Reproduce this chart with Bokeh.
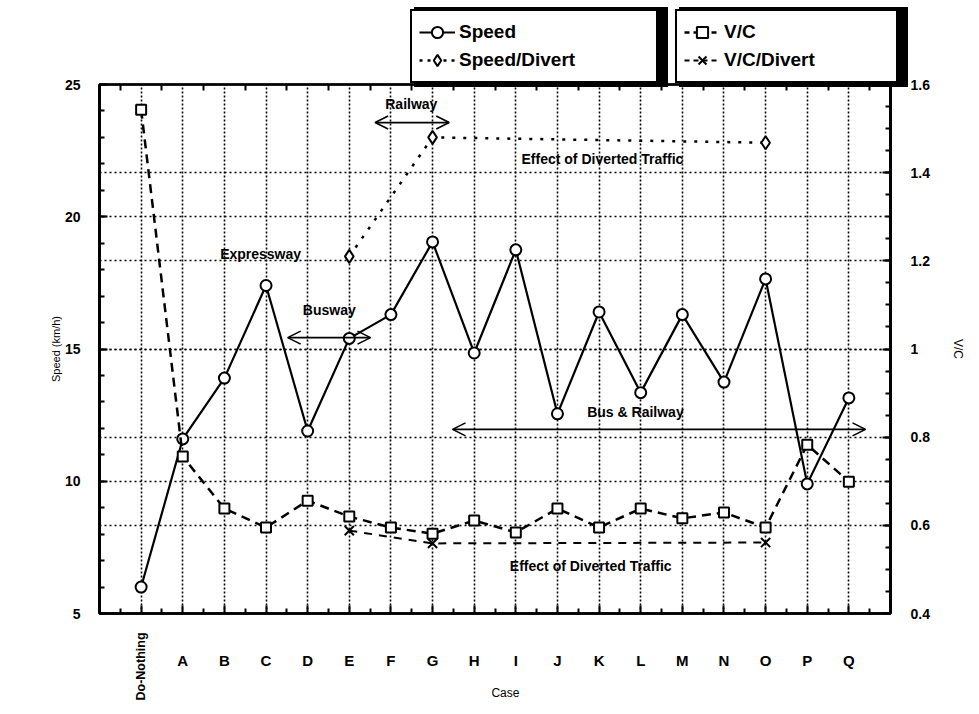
import math
from bokeh.plotting import figure
from bokeh.layouts import column
from bokeh.models import (Range1d, LinearAxis, FixedTicker, Grid, Legend, LegendItem,
                          Label, Arrow, OpenHead, CustomJSTickFormatter)
from bokeh.core.properties import value
from bokeh.embed import file_html
from bokeh.resources import INLINE

# ---------------- data ----------------
categories = ["Do-Nothing", "A", "B", "C", "D", "E", "F", "G", "H", "I",
              "J", "K", "L", "M", "N", "O", "P", "Q"]
speed = [6.0, 11.6, 13.9, 17.4, 11.9, 15.4, 16.3, 19.05, 14.85, 18.75,
         12.55, 16.4, 13.35, 16.3, 13.75, 17.65, 9.9, 13.15]
vc = [1.543, 0.756, 0.638, 0.595, 0.656, 0.620, 0.595, 0.581, 0.611, 0.584,
      0.638, 0.595, 0.638, 0.616, 0.629, 0.595, 0.783, 0.699]
divert_cases = ["E", "G", "O"]
speed_divert = [18.5, 23.0, 22.8]
vc_divert = [0.588, 0.559, 0.561]

speed_ticks = [5, 10, 15, 20, 25]
speed_minor = list(range(5, 26))
vc_ticks = [0.4, 0.6, 0.8, 1.0, 1.2, 1.4, 1.6]
vc_minor = [0.4, 0.45, 0.5, 0.55, 0.6, 0.65, 0.7, 0.75, 0.8, 0.85, 0.9, 0.95, 1.0,
            1.05, 1.1, 1.15, 1.2, 1.25, 1.3, 1.35, 1.4, 1.45, 1.5, 1.55, 1.6]

FONT = "Liberation Sans"
W = 963
LEG_H = 90
OVERLAP = 14
BOT_H = 87

xs = list(range(len(categories)))
xd = [categories.index(c) for c in divert_cases]
x_range = Range1d(-1, 18)

# ================= main chart =================
p = figure(frame_width=791, frame_height=529,
           x_range=x_range, y_range=Range1d(5, 25),
           output_backend="svg", toolbar_location=None,
           min_border_left=99, min_border_right=73,
           min_border_top=8, min_border_bottom=10,
           background_fill_color="white", border_fill_color="white")
p.extra_y_ranges = {"vc": Range1d(0.4, 1.6)}
p.outline_line_color = "black"
p.outline_line_width = 2.5

xa = p.xaxis[0]
xa.ticker = FixedTicker(ticks=xs, minor_ticks=[i + 0.5 for i in range(-1, 18)])
xa.formatter = CustomJSTickFormatter(code="return '';")
xa.major_label_text_font_size = "1px"
xa.major_label_standoff = 0
xa.major_tick_in = 8
xa.major_tick_out = 0
xa.minor_tick_in = 5
xa.minor_tick_out = 0
xa.axis_line_width = 2.5
xa.major_tick_line_width = 2
xa.minor_tick_line_width = 2

ya = p.yaxis[0]
ya.ticker = FixedTicker(ticks=speed_ticks, minor_ticks=speed_minor)
ya.major_label_text_font = FONT
ya.major_label_text_font_style = "bold"
ya.major_label_text_font_size = "14px"
ya.major_label_text_color = "black"
ya.major_label_standoff = 19
ya.axis_label = "Speed (km/h)"
ya.axis_label_text_font = FONT
ya.axis_label_text_font_style = "normal"
ya.axis_label_text_font_size = "11px"
ya.axis_label_text_color = "black"
ya.axis_label_standoff = 0
ya.major_tick_in = 8
ya.major_tick_out = 0
ya.minor_tick_in = 5
ya.minor_tick_out = 0
ya.axis_line_width = 3
ya.major_tick_line_width = 2
ya.minor_tick_line_width = 2

ra = LinearAxis(y_range_name="vc",
                ticker=FixedTicker(ticks=vc_ticks, minor_ticks=vc_minor),
                formatter=CustomJSTickFormatter(code="return String(Math.round(tick * 10) / 10);"))
ra.major_label_text_font = FONT
ra.major_label_text_font_style = "bold"
ra.major_label_text_font_size = "14px"
ra.major_label_text_color = "black"
ra.major_label_standoff = 20
ra.axis_label = "V/C"
ra.axis_label_text_font = FONT
ra.axis_label_text_font_style = "normal"
ra.axis_label_text_font_size = "12px"
ra.axis_label_text_color = "black"
ra.axis_label_standoff = 18
ra.major_tick_in = 8
ra.major_tick_out = 0
ra.minor_tick_in = 5
ra.minor_tick_out = 0
ra.axis_line_width = 3
ra.major_tick_line_width = 2
ra.minor_tick_line_width = 2
p.add_layout(ra, "right")

ta = LinearAxis(ticker=FixedTicker(ticks=[i + 0.5 for i in range(-1, 18)]),
                formatter=CustomJSTickFormatter(code="return '';"))
ta.major_tick_in = 6
ta.major_tick_out = 0
ta.minor_tick_in = 0
ta.minor_tick_out = 0
ta.major_tick_line_width = 2
ta.axis_line_width = 2
ta.major_label_text_font_size = "1px"
ta.major_label_standoff = 0
p.add_layout(ta, "above")

# grids
p.xgrid.ticker = FixedTicker(ticks=xs)
p.xgrid.grid_line_color = "black"
p.xgrid.grid_line_dash = "2 2"
p.xgrid.grid_line_width = 1.6
p.ygrid.ticker = FixedTicker(ticks=speed_ticks[1:-1])
p.ygrid.grid_line_color = "black"
p.ygrid.grid_line_dash = "2 3"
p.ygrid.grid_line_width = 1.3
vgrid = Grid(dimension=1, axis=ra, y_range_name="vc",
             ticker=FixedTicker(ticks=vc_ticks[1:-1]),
             grid_line_color="black", grid_line_dash="2 3", grid_line_width=1.3)
p.add_layout(vgrid)

# series
p.line(xs, speed, line_color="black", line_width=2.2)
p.scatter(xs, speed, marker="circle", size=11, fill_color="white",
          line_color="black", line_width=2)
p.line(xd, speed_divert, line_color="black", line_width=2.5, line_dash="3 8")
p.scatter(xd, speed_divert, marker="diamond", size=13, fill_color="white",
          line_color="black", line_width=2)
p.line(xs, vc, y_range_name="vc", line_color="black", line_width=2.5, line_dash="9 6")
p.scatter(xs, vc, y_range_name="vc", marker="square", size=10, fill_color="white",
          line_color="black", line_width=2)
p.line(xd, vc_divert, y_range_name="vc", line_color="black", line_width=2, line_dash="8 7")
p.scatter(xd, vc_divert, y_range_name="vc", marker="x", size=13,
          line_color="black", line_width=2)

# annotations
def lab(x, y, t, size="14px"):
    p.add_layout(Label(x=x, y=y, text=t, text_font=FONT, text_font_style="bold",
                       text_font_size=size, text_color="black",
                       text_align="center", text_baseline="middle"))

lab(6.49, 24.28, "Railway")
lab(11.08, 22.2, "Effect of Diverted Traffic")
lab(2.87, 18.6, "Expressway")
lab(4.52, 16.46, "Busway")
lab(11.92, 12.6, "Bus &  Railway")
lab(10.8, 6.81, "Effect of Diverted Traffic")

def arrow(x0, x1, y):
    p.add_layout(Arrow(start=OpenHead(size=13, line_width=1.6), end=OpenHead(size=13, line_width=1.6),
                       x_start=x0, y_start=y, x_end=x1, y_end=y, line_width=1.6))

arrow(5.62, 7.40, 23.56)
arrow(3.52, 5.51, 15.43)
arrow(7.48, 17.4, 11.96)

# ================= legend strip (top, drawn over the chart's top margin) =================
lf = figure(frame_width=W, frame_height=LEG_H, x_range=Range1d(0, W), y_range=Range1d(0, LEG_H),
            output_backend="svg", toolbar_location=None,
            min_border_left=0, min_border_right=0, min_border_top=0, min_border_bottom=0,
            x_axis_location=None, y_axis_location=None,
            background_fill_color="white", border_fill_color="white")
lf.background_fill_alpha = 0.0
lf.border_fill_alpha = 0.0
lf.outline_line_color = None
lf.xgrid.visible = False
lf.ygrid.visible = False
lf.margin = (0, 0, -OVERLAP, 0)
lf.styles = {"position": "relative", "z-index": "10"}

off = [-1000, -990]
off_y = [-1000, -1000]
d1 = lf.line(off, off_y, line_color="black", line_width=2.2)
d1m = lf.scatter(off[:1], off_y[:1], marker="circle", size=11, fill_color="white", line_color="black", line_width=2)
d2 = lf.line(off, off_y, line_color="black", line_width=2.5, line_dash="3 5")
d2m = lf.scatter(off[:1], off_y[:1], marker="diamond", size=13, fill_color="white", line_color="black", line_width=2)
d3 = lf.line(off, off_y, line_color="black", line_width=2.5, line_dash="5 4")
d3m = lf.scatter(off[:1], off_y[:1], marker="square", size=10, fill_color="white", line_color="black", line_width=2)
d4 = lf.line(off, off_y, line_color="black", line_width=2, line_dash="5 4")
d4m = lf.scatter(off[:1], off_y[:1], marker="x", size=13, line_color="black", line_width=2)

PAD, GW, GH, STAND, SH = 7, 36, 28, 4, 4

def legend_box(items, loc, label_width, shadow):
    return Legend(items=items, location=loc, margin=0, padding=PAD, spacing=0,
                  glyph_width=GW, glyph_height=GH, label_height=GH, label_width=label_width,
                  label_standoff=STAND, label_text_font=FONT, label_text_font_style="bold",
                  label_text_font_size="19px",
                  label_text_color="black",
                  border_line_color="black", border_line_alpha=1.0,
                  border_line_width=5 if shadow else 2,
                  background_fill_color="black" if shadow else "white",
                  background_fill_alpha=1.0)

def make_legend(labels, rends, vx, vy, label_width):
    shadow_items = [LegendItem(label=" ", renderers=r) for r in rends]
    lf.add_layout(legend_box(shadow_items, (vx + SH, vy - SH), label_width, True))
    items = [LegendItem(label=t, renderers=r) for t, r in zip(labels, rends)]
    lf.add_layout(legend_box(items, (vx, vy), label_width, False))

# white boxes end at page y 83
make_legend(["Speed", "Speed/Divert"], [[d1, d1m], [d2, d2m]], 410, LEG_H - 83, 190)
make_legend(["V/C", "V/C/Divert"], [[d3, d3m], [d4, d4m]], 675, LEG_H - 83, 165)

# ================= category labels strip (bottom) =================
bf = figure(frame_width=791, frame_height=BOT_H, x_range=x_range, y_range=Range1d(0, BOT_H),
            output_backend="svg", toolbar_location=None,
            min_border_left=99, min_border_right=73, min_border_top=0, min_border_bottom=0,
            x_axis_location=None, y_axis_location=None,
            background_fill_color="white", border_fill_color="white")
bf.outline_line_color = None
bf.xgrid.visible = False
bf.ygrid.visible = False

bf.text(x=xs[1:], y=[BOT_H - 37] * (len(xs) - 1), text=categories[1:],
        text_font=value(FONT), text_font_style="bold", text_font_size="15px",
        text_align="center", text_baseline="middle", text_color="black")
bf.text(x=[xs[0]], y=[BOT_H - 43], text=[categories[0]], angle=math.pi / 2,
        text_font=value(FONT), text_font_style="bold", text_font_size="12.5px",
        text_align="center", text_baseline="middle", text_color="black")
bf.text(x=[8.75], y=[BOT_H - 69], text=["Case"],
        text_font=value(FONT), text_font_style="normal", text_font_size="12px",
        text_align="center", text_baseline="middle", text_color="black")

layout = column(lf, p, bf, spacing=0)
open("out.html", "w").write(file_html(layout, INLINE))
